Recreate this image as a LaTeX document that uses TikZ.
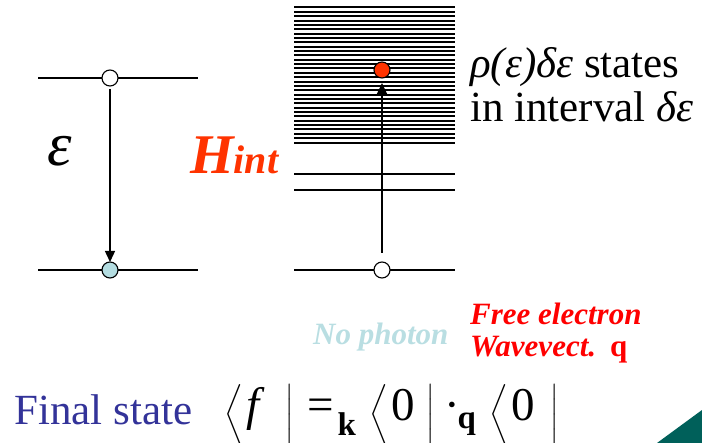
\documentclass[tikz,border=0pt]{standalone}
\usepackage{fontspec}
\usepackage{amsmath}
\setmainfont{Liberation Serif}
\usetikzlibrary{arrows.meta}
\definecolor{hintred}{HTML}{FF3300}
\definecolor{lowblue}{HTML}{B4DDE1}
\definecolor{nophoton}{HTML}{B9DEE2}
\definecolor{fsblue}{HTML}{333399}
\definecolor{cornerteal}{HTML}{00605A}
\begin{document}
\begin{tikzpicture}[x=1pt,y=-1pt,
  level/.style={line width=2.3pt},
  band/.style={line width=2pt},
  state/.style={circle,draw,line width=1.1pt,minimum size=16pt,inner sep=0pt},
  trans/.style={line width=1.4pt,-{Triangle[length=11pt,width=10pt]}},
  lbl/.style={anchor=base west,inner sep=0pt}]
\useasboundingbox (0,0) rectangle (702,443);
% quasi-continuum band
\foreach \i in {0,...,31}
  \draw[band] (294,{7.5+\i*4.355}) -- (455,{7.5+\i*4.355});
% discrete levels
\draw[level] (38,78) -- (198,78);
\draw[level] (38,270) -- (198,270);
\draw[level] (294,174) -- (455,174);
\draw[level] (294,190) -- (455,190);
\draw[level] (294,270) -- (455,270);
% transitions
\coordinate (a1c) at (110,78);
\coordinate (a0c) at (110,262);
\coordinate (b0c) at (382,270);
\coordinate (b1c) at (382,70);
\draw[trans,shorten <=11pt] (a1c) -- (a0c);
\draw[trans,shorten <=17pt,shorten >=13pt] (b0c) -- (b1c);
% states
\node[state,fill=white] (a1) at (a1c) {};
\node[state,fill=lowblue] (a0) at (110,270) {};
\node[state,fill=white] (b0) at (b0c) {};
\node[state,fill=hintred] (b1) at (b1c) {};
% labels
\node[anchor=base,inner sep=0pt] (eps) at (60,166) {\fontsize{62}{64}\selectfont\itshape ε};
\node[lbl,text=hintred] (hint) at (190,174) {\bfseries\itshape\fontsize{56}{56}\selectfont H\fontsize{40}{40}\selectfont int};
\node[lbl] (rho) at (470,78) {\fontsize{43}{46}\selectfont\textit{ρ(ε)δε} states};
\node[lbl] (intv) at (470,122) {\fontsize{43}{46}\selectfont in interval \textit{δε}};
\node[lbl,text=nophoton] (nop) at (313,345) {\bfseries\itshape\fontsize{31}{31}\selectfont No photon};
\node[lbl,text=red] (free) at (470,325) {\bfseries\itshape\fontsize{31}{31}\selectfont Free electron};
\node[lbl,text=red] (wave) at (470,357) {\bfseries\fontsize{31}{31}\selectfont\textit{Wavevect.}\hspace{14pt}q};
\node[lbl,text=fsblue] (fs) at (14,425) {\fontsize{43}{43}\selectfont Final state};
\node[lbl] (formula) at (224,421) {\fontsize{47}{50}\selectfont
  $\bigg\langle\hspace{4pt}\textit{f}\hspace{26pt}\bigg|\hspace{13pt}\text{=}_{\hspace{4pt}\textbf{k}}\hspace{13pt}\bigg\langle\hspace{3pt}\text{0}\hspace{12pt}\bigg|\hspace{10pt}\text{·}_{\hspace{-3pt}\textbf{q}}\hspace{13pt}\bigg\langle\hspace{3pt}\text{0}\hspace{16pt}\bigg|$};
% corner decoration
\fill[cornerteal] (702,410) -- (657,443) -- (702,443) -- cycle;
\end{tikzpicture}
\end{document}
